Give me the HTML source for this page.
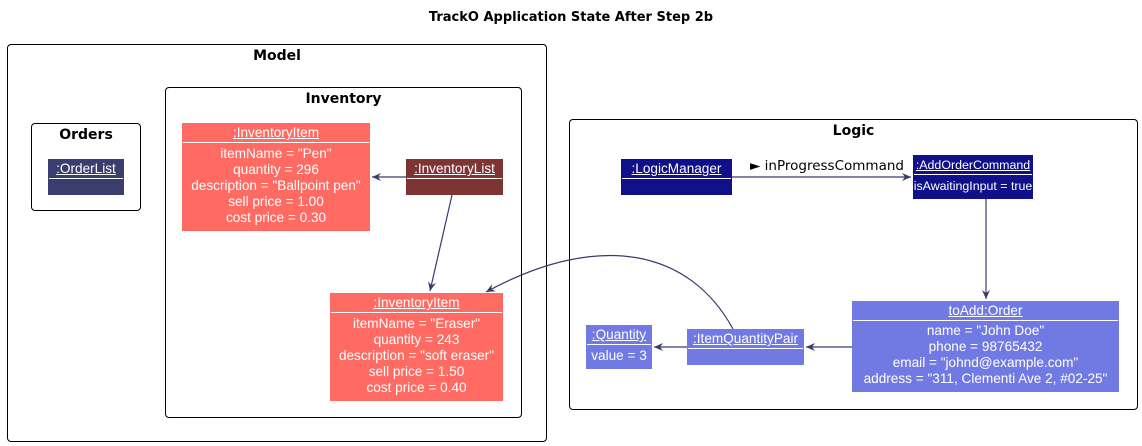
<!DOCTYPE html>
<html><head><meta charset="utf-8"><style>
body{margin:0;width:1142px;height:446px;background:#fff;position:relative;font-family:"Liberation Sans",Arial,sans-serif;overflow:hidden}
.fr{position:absolute;border:1.5px solid #000;border-radius:4px;box-sizing:border-box}
.ft{position:absolute;left:0;right:0;text-align:center;font-weight:bold;font-size:14px;font-family:"DejaVu Sans","Liberation Sans",sans-serif;top:3px}
.ob{position:absolute;color:#fff;font-size:13.6px;text-align:center;box-sizing:border-box;line-height:16px;white-space:nowrap}
.hd{height:19px;line-height:20px;border-bottom:1px solid #fff;margin:0 1px;}
.hd span{text-decoration:underline}
.bd{padding-top:3px}
.t{position:absolute;font-size:13px}
</style></head><body>
<div class="t" style="left:0;width:1142px;text-align:center;top:10px;font-weight:bold;font-family:'DejaVu Sans',sans-serif;font-size:13px">TrackO Application State After Step 2b</div>

<div class="fr" style="left:7px;top:44px;width:540px;height:398px"><div class="ft">Model</div></div>
<div class="fr" style="left:31px;top:123px;width:110px;height:88px"><div class="ft">Orders</div></div>
<div class="fr" style="left:165px;top:87px;width:357px;height:331px"><div class="ft">Inventory</div></div>
<div class="fr" style="left:569px;top:119px;width:569px;height:291px"><div class="ft">Logic</div></div>

<div class="ob" style="left:48px;top:159px;width:76px;height:36px;background:#3A3D6E"><div class="hd"><span>:OrderList</span></div></div>

<div class="ob" style="left:182px;top:123px;width:188px;height:108px;background:#FF6B63"><div class="hd"><span>:InventoryItem</span></div><div class="bd">itemName = "Pen"<br>quantity = 296<br>description = "Ballpoint pen"<br>sell price = 1.00<br>cost price = 0.30</div></div>

<div class="ob" style="left:406px;top:159px;width:97px;height:36px;background:#7F3434"><div class="hd"><span>:InventoryList</span></div></div>

<div class="ob" style="left:330px;top:293px;width:173px;height:108px;background:#FF6B63"><div class="hd"><span>:InventoryItem</span></div><div class="bd">itemName = "Eraser"<br>quantity = 243<br>description = "soft eraser"<br>sell price = 1.50<br>cost price = 0.40</div></div>

<div class="ob" style="left:621px;top:159px;width:111px;height:36px;background:#10108A"><div class="hd"><span>:LogicManager</span></div></div>

<div class="ob" style="left:913px;top:155px;width:120px;height:44px;background:#10108A;font-size:12.4px"><div class="hd"><span>:AddOrderCommand</span></div><div style="padding-top:3px">isAwaitingInput = true</div></div>

<div class="ob" style="left:852px;top:301px;width:267px;height:91px;background:#717AE2"><div class="hd"><span>toAdd:Order</span></div><div class="bd" style="padding-top:2px">name = "John Doe"<br>phone = 98765432<br>email = "johnd@example.com"<br>address = "311, Clementi Ave 2, #02-25"</div></div>

<div class="ob" style="left:687px;top:329px;width:117px;height:36px;background:#717AE2"><div class="hd"><span>:ItemQuantityPair</span></div></div>

<div class="ob" style="left:586px;top:325px;width:66px;height:44px;background:#717AE2"><div class="hd"><span>:Quantity</span></div><div style="padding-top:3px">value = 3</div></div>

<div class="t" style="left:750px;top:158px;font-size:13.5px;font-family:'DejaVu Sans',sans-serif">&#9658; inProgressCommand</div>

<svg width="1142" height="446" style="position:absolute;left:0;top:0" fill="none" stroke="#383B6E" stroke-width="1.2">
<defs><marker id="a" markerWidth="10" markerHeight="10" refX="9" refY="5" orient="auto" markerUnits="userSpaceOnUse"><path d="M0,1 L9,5 L0,9 L3,5 Z" fill="#383B6E" stroke="none"/></marker></defs>
<line x1="406" y1="177" x2="372" y2="177" marker-end="url(#a)"/>
<line x1="452" y1="195" x2="430" y2="291" marker-end="url(#a)"/>
<line x1="732" y1="177" x2="911" y2="177" marker-end="url(#a)"/>
<line x1="986" y1="199" x2="986" y2="299" marker-end="url(#a)"/>
<line x1="852" y1="347" x2="806" y2="347" marker-end="url(#a)"/>
<line x1="687" y1="347" x2="654" y2="347" marker-end="url(#a)"/>
<path d="M733,329 C690,250 600,230 486,292" marker-end="url(#a)"/>
</svg>
</body></html>
